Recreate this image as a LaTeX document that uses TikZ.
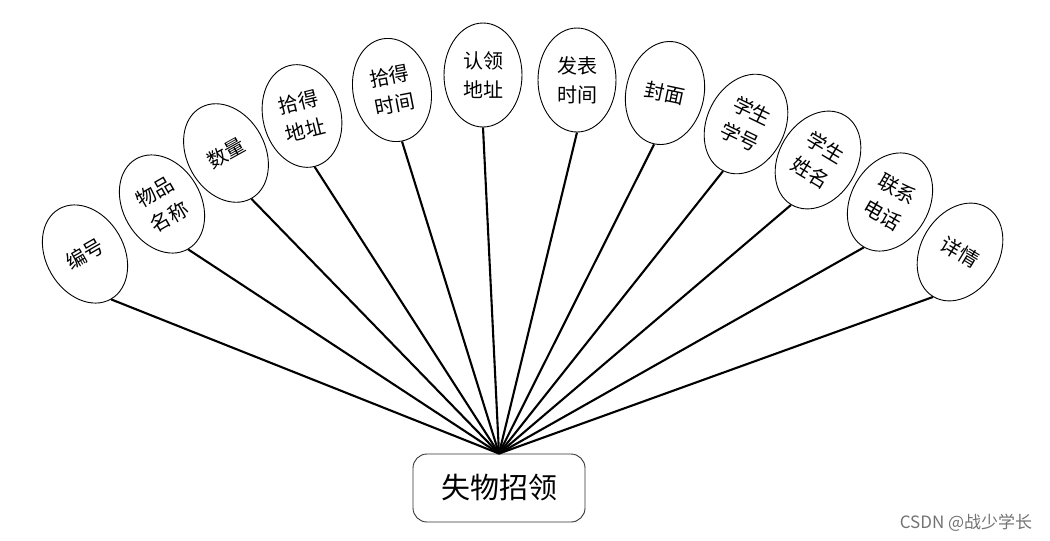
\documentclass[tikz,border=0pt]{standalone}
\usepackage{fontspec}
\newfontfamily\cjk{Noto Sans CJK SC}
\usetikzlibrary{shapes.geometric}

\begin{document}
\begin{tikzpicture}[
    x=1pt, y=-1pt,
    attr/.style={ellipse, draw, line width=0.9pt, inner sep=0pt,
      minimum width=78pt, minimum height=104pt, align=center,
      font=\cjk\fontsize{20}{29}\selectfont},
    ent/.style={rectangle, rounded corners=14pt, draw=black!80, line width=0.9pt,
      minimum width=172pt, minimum height=68pt, font=\cjk\fontsize{29}{32}\selectfont},
    lnk/.style={line width=2.1pt},
    wm/.style={font=\cjk\fontsize{17}{20}\selectfont, text=black!55}
  ]
    \useasboundingbox (0,0) rectangle (1050,541);

    \node[ent] (lost) at (499,488) {失物招领};

    \node[attr, rotate=30] (num) at (85,254) {编号};
    \node[attr, rotate=30] (name) at (162,204) {物品\\名称};
    \node[attr, rotate=29] (qty) at (226,153) {数量};
    \node[attr, rotate=14] (fplace) at (302,116) {拾得\\地址};
    \node[attr, rotate=11] (ftime) at (392,90) {拾得\\时间};
    \node[attr] (cplace) at (483,75) {认领\\地址};
    \node[attr] (ptime) at (577,80) {发表\\时间};
    \node[attr, rotate=-12] (cover) at (665,93) {封面};
    \node[attr, rotate=-26] (sid) at (746,124) {学生\\学号};
    \node[attr, rotate=-31] (sname) at (818,160) {学生\\姓名};
    \node[attr, rotate=-30] (phone) at (890,202) {联系\\电话};
    \node[attr, rotate=-31] (detail) at (960,252) {详情};

    \node[wm] (mark) at (966,523) {CSDN @战少学长};

    \draw[lnk] (lost.north) -- (num.south);
    \draw[lnk] (lost.north) -- (name.south);
    \draw[lnk] (lost.north) -- (qty.south);
    \draw[lnk] (lost.north) -- (fplace.south);
    \draw[lnk] (lost.north) -- (ftime.south);
    \draw[lnk] (lost.north) -- (cplace.south);
    \draw[lnk] (lost.north) -- (ptime.south);
    \draw[lnk] (lost.north) -- (cover.south);
    \draw[lnk] (lost.north) -- (sid.south);
    \draw[lnk] (lost.north) -- (sname.south);
    \draw[lnk] (lost.north) -- (phone.south);
    \draw[lnk] (lost.north) -- (detail.south);
  \end{tikzpicture}
\end{document}
